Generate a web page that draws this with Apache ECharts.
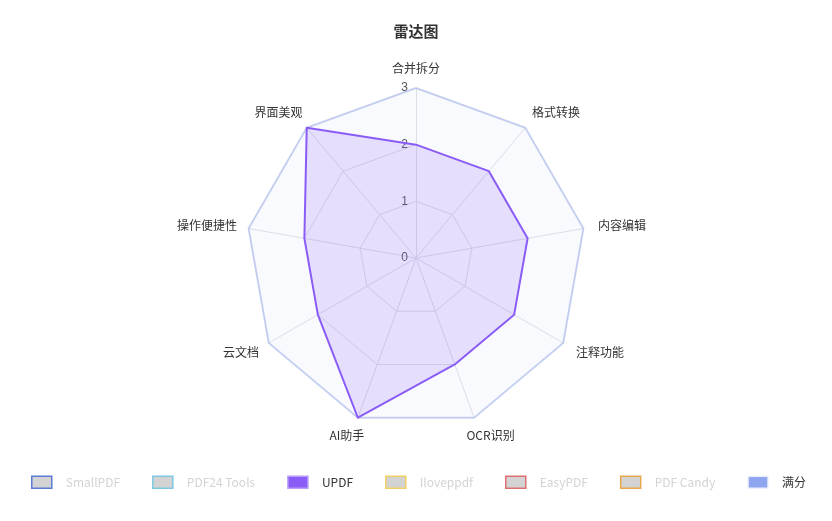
<!DOCTYPE html>
<html>
<head>
<meta charset="utf-8">
<script src="https://cdn.jsdelivr.net/npm/echarts@6/dist/echarts.min.js"></script>
<style>
html,body{margin:0;padding:0;background:#fff;}
#chart{width:832px;height:521px;}
</style>
</head>
<body>
<div id="chart"></div>
<script>
// Indicators listed counter-clockwise from the top (ECharts radar order)
const indicators = ['合并拆分', '界面美观', '操作便捷性', '云文档', 'AI助手', 'OCR识别', '注释功能', '内容编辑', '格式转换'];
const maxScore = 3;
const axisTicks = ['0', '1', '2', '3'];

const seriesNames = ['SmallPDF', 'PDF24 Tools', 'UPDF', 'Iloveppdf', 'EasyPDF', 'PDF Candy', '满分'];
const seriesColors = ['#5b7bd5', '#7ec8e3', '#8b5cf6', '#f2cf63', '#e07070', '#e6a84a', '#8fa5f0'];
const smallPdf = [2, 1, 2, 2, 1, 1, 2, 1, 2];
const pdf24 = [2, 1, 2, 1, 1, 1, 2, 1, 2];
const updf = [2, 3, 2, 2, 3, 2, 2, 2, 2];
const ilovepdf = [2, 2, 2, 2, 1, 2, 1, 1, 2];
const easyPdf = [2, 1, 1, 1, 1, 1, 1, 1, 2];
const pdfCandy = [2, 1, 2, 1, 1, 1, 1, 1, 2];
const fullScore = [3, 3, 3, 3, 3, 3, 3, 3, 3];
const seriesValues = [smallPdf, pdf24, updf, ilovepdf, easyPdf, pdfCandy, fullScore];
const selectedNames = ['UPDF', '满分'];

// Style: per-indicator name gap and horizontal nudge of the name text (px)
const nameGaps = [20, 20.2, 15, 19, 19.3, 19.3, 19, 15, 20.2];
const nameShiftX = [0, -15.2, -26.8, -11.3, -4.3, 9.8, 20.3, 23.8, 17.7];

const chart = echarts.init(document.getElementById('chart'));

const selected = {};
seriesNames.forEach(n => { selected[n] = selectedNames.indexOf(n) >= 0; });

const series = seriesNames.map((name, i) => {
  const isFull = name === '满分';
  return {
    name: name,
    type: 'radar',
    symbol: 'none',
    itemStyle: { color: seriesColors[i] },
    lineStyle: isFull ? { color: seriesColors[i], width: 2, opacity: 0.4 } : { color: seriesColors[i], width: 2 },
    areaStyle: isFull ? { color: seriesColors[i], opacity: 0.05 } : { color: seriesColors[i], opacity: 0.18 },
    z: isFull ? 1 : 2,
    data: [{ value: seriesValues[i], name: name }]
  };
});

function shiftPadding(sx) {
  return [0, sx < 0 ? -2 * sx : 0, 0, sx > 0 ? 2 * sx : 0];
}

chart.setOption({
  animation: false,
  backgroundColor: '#fff',
  title: {
    text: '雷达图',
    left: 'center',
    top: 19,
    textStyle: { fontSize: 15, fontWeight: 'bold', color: '#333', fontFamily: 'Noto Sans CJK SC' }
  },
  legend: {
    bottom: 27,
    left: 26,
    itemWidth: 20,
    itemHeight: 12,
    itemGap: 32,
    icon: 'rect',
    inactiveColor: '#d3d3d3',
    selected: selected,
    textStyle: { fontSize: 12, color: '#333', padding: [0, 0, 0, 9], fontFamily: 'Noto Sans CJK SC' },
    data: seriesNames.map((n, i) => ({
      name: n,
      inactiveBorderColor: seriesColors[i],
      inactiveBorderWidth: 1.5,
      itemStyle: { borderColor: n === '满分' ? '#eef1fd' : '#b79cf8', borderWidth: 1.5 }
    }))
  },
  radar: {
    center: [416, 258],
    radius: 170,
    startAngle: 90,
    splitNumber: 3,
    shape: 'polygon',
    indicator: indicators.map((name, i) => {
      const ind = {
        name: name, max: maxScore, min: 0,
        nameGap: nameGaps[i],
        nameTextStyle: { align: 'center', verticalAlign: 'middle', padding: shiftPadding(nameShiftX[i]) }
      };
      if (i === 0) {
        ind.axisLabel = {
          show: true,
          color: '#555',
          fontSize: 12,
          formatter: v => axisTicks[Math.round(v)]
        };
      }
      return ind;
    }),
    axisName: { color: '#333', fontSize: 12, fontFamily: 'Noto Sans CJK SC' },
    nameGap: 15,
    axisLabel: { show: false },
    axisTick: { show: false },
    axisLine: { lineStyle: { color: '#e2e2e6' } },
    splitLine: { lineStyle: { color: '#e2e2e6', width: 1 } },
    splitArea: { show: false }
  },
  series: series
});
</script>
</body>
</html>
